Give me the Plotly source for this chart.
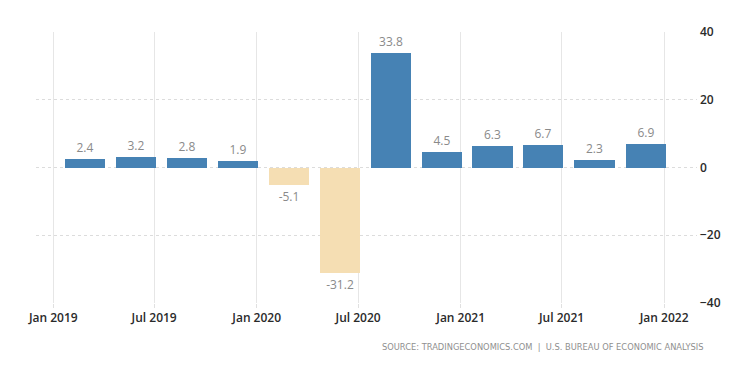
import plotly.graph_objects as go
import pandas as pd

quarters = ["2019-03-31", "2019-06-30", "2019-09-30", "2019-12-31",
            "2020-03-31", "2020-06-30", "2020-09-30", "2020-12-31",
            "2021-03-31", "2021-06-30", "2021-09-30", "2021-12-31"]
growth = [2.4, 3.2, 2.8, 1.9, -5.1, -31.2, 33.8, 4.5, 6.3, 6.7, 2.3, 6.9]

x_tick_vals = ["2019-01-01", "2019-07-01", "2020-01-01", "2020-07-01",
               "2021-01-01", "2021-07-01", "2022-01-01"]
x_tick_text = ["Jan 2019", "Jul 2019", "Jan 2020", "Jul 2020",
               "Jan 2021", "Jul 2021", "Jan 2022"]
y_tick_vals = [40, 20, 0, -20, -40]
source_text = "SOURCE: TRADINGECONOMICS.COM  |  U.S. BUREAU OF ECONOMIC ANALYSIS"

POS = "#4682b4"
NEG = "#f5deb3"
DAY = 86400000
width_ms = 72 * DAY

colors = [POS if v >= 0 else NEG for v in growth]
labels = [f"{v:.1f}" for v in growth]

fig = go.Figure()
fig.add_trace(go.Bar(
    x=pd.to_datetime(quarters),
    y=growth,
    width=[width_ms] * len(growth),
    offset=-68 * DAY,
    marker=dict(color=colors, line=dict(width=0)),
    text=labels,
    textposition="outside",
    textfont=dict(family="Open Sans", size=12, color="#8a8a8a"),
    cliponaxis=False,
    hoverinfo="skip",
))

fig.update_layout(
    width=750, height=375,
    margin=dict(l=28, r=61, t=24, b=80),
    paper_bgcolor="white", plot_bgcolor="white",
    showlegend=False,
    bargap=0,
    xaxis=dict(
        type="date",
        range=["2018-12-01", "2022-03-01"],
        tickvals=x_tick_vals, ticktext=x_tick_text,
        showgrid=True, gridcolor="#e6e6e6", gridwidth=1,
        zeroline=False, showline=False,
        ticks="outside", ticklen=4, tickcolor="#e0e0e0",
        tickfont=dict(family="Open Sans", size=12, color="#2a2a2a", weight=600),
    ),
    yaxis=dict(
        side="right",
        range=[-40, 40],
        tickvals=y_tick_vals,
        showgrid=True, gridcolor="#dcdcdc", griddash="dot", gridwidth=1,
        zeroline=False, showline=False,
        ticks="", ticklabelstandoff=2,
        tickfont=dict(family="Open Sans", size=12, color="#2a2a2a", weight=600),
    ),
    annotations=[dict(
        text=source_text, xref="paper", yref="paper",
        x=1.0136, y=-0.162, xanchor="right", yanchor="middle",
        showarrow=False,
        font=dict(family="DejaVu Sans", size=8.3, color="#8f8f8f"),
    )],
)

fig.write_html("out.html")
